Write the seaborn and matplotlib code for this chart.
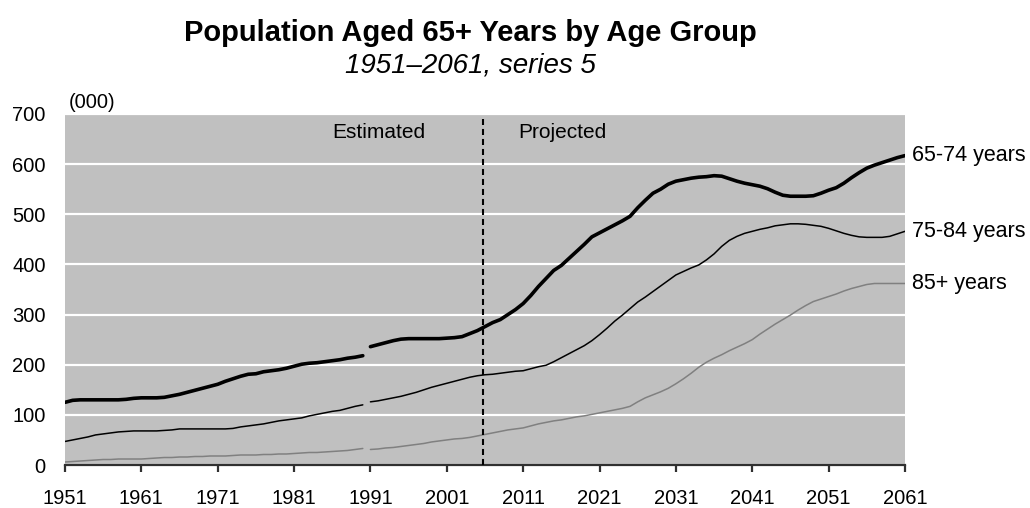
import matplotlib
matplotlib.use("Agg")
import matplotlib.pyplot as plt
import numpy as np
import pandas as pd
import seaborn as sns

# ---- data (thousands of persons) ----
years = list(range(1951, 2062))

age_65_74 = [
    125, 129, 130, 130, 130, 130, 130, 130, 131, 133,   # 1951-1960
    134, 134, 134, 135, 138, 141, 145, 149, 153, 157,   # 1961-1970
    161, 167, 172, 177, 181, 182, 186, 188, 190, 193,   # 1971-1980
    197, 201, 203, 204, 206, 208, 210, 213, 215, 218,   # 1981-1990
    236, 240, 244, 248, 251, 252, 252, 252, 252, 252,   # 1991-2000
    253, 254, 256, 262, 268, 276, 284, 290, 300, 310,   # 2001-2010
    322, 338, 356, 372, 388, 398, 412, 426, 440, 455,   # 2011-2020
    463, 471, 479, 487, 496, 513, 528, 542, 550, 560,   # 2021-2030
    566, 569, 572, 574, 575, 577, 576, 571, 566, 562,   # 2031-2040
    559, 556, 551, 544, 538, 536, 536, 536, 537, 542,   # 2041-2050
    548, 553, 562, 573, 583, 592, 598, 603, 608, 613,   # 2051-2060
    617,                                                # 2061
]

age_75_84 = [
    47, 50, 53, 56, 60, 62, 64, 66, 67, 68,
    68, 68, 68, 69, 70, 72, 72, 72, 72, 72,
    72, 72, 73, 76, 78, 80, 82, 85, 88, 90,
    92, 94, 98, 101, 104, 107, 109, 113, 117, 120,
    126, 128, 131, 134, 137, 141, 145, 150, 155, 159,
    163, 167, 171, 175, 178, 180, 181, 183, 185, 187,
    188, 192, 196, 199, 206, 214, 222, 230, 238, 248,
    260, 273, 287, 299, 312, 325, 335, 346, 357, 368,
    379, 386, 393, 399, 409, 421, 436, 448, 456, 462,
    466, 470, 473, 477, 479, 481, 481, 480, 478, 476,
    472, 467, 462, 458, 455, 454, 454, 454, 456, 461,
    466,
]

age_85_plus = [
    6, 7, 8, 9, 10, 11, 11, 12, 12, 12,
    12, 13, 14, 15, 15, 16, 16, 17, 17, 18,
    18, 18, 19, 20, 20, 20, 21, 21, 22, 22,
    23, 24, 25, 25, 26, 27, 28, 29, 31, 33,
    31, 32, 34, 35, 37, 39, 41, 43, 46, 48,
    50, 52, 53, 55, 58, 61, 64, 67, 70, 72,
    74, 78, 82, 85, 88, 90, 93, 96, 98, 101,
    104, 107, 110, 113, 117, 126, 134, 140, 146, 153,
    162, 172, 183, 195, 205, 213, 220, 228, 235, 242,
    250, 261, 271, 281, 290, 299, 309, 318, 326, 331,
    336, 341, 347, 352, 356, 360, 362, 362, 362, 362,
    362,
]

groups = ["65-74 years", "75-84 years", "85+ years"]
series = [age_65_74, age_75_84, age_85_plus]
x_ticks = list(range(1951, 2062, 10))
y_ticks = list(range(0, 701, 100))
last_estimate_year = 1990          # series break between 1990 and 1991
projection_start = 2005.7          # boundary between estimates and projections

# ---- long-form table ----
frames = []
for name, vals in zip(groups, series):
    frames.append(pd.DataFrame({
        "year": years,
        "value": vals,
        "group": name,
        "segment": ["early" if y <= last_estimate_year else "late" for y in years],
    }))
df = pd.concat(frames, ignore_index=True)

palette = {"65-74 years": "#000000", "75-84 years": "#000000", "85+ years": "#808080"}
widths = {"65-74 years": 2.6, "75-84 years": 1.1, "85+ years": 1.1}

sns.set_style("white")
plt.rcParams["font.family"] = ["Liberation Sans", "DejaVu Sans"]
plt.rcParams["text.color"] = "black"

fig = plt.figure(figsize=(10.30, 5.08), dpi=100)
ax = fig.add_axes([0.0631, 0.0846, 0.8155, 0.691])

ax.set_facecolor("#C0C0C0")
sns.lineplot(data=df, x="year", y="value", hue="group", size="group",
             units="segment", estimator=None, palette=palette, sizes=widths,
             legend=False, ax=ax, zorder=3)

ax.set_xlim(1951, 2061)
ax.set_ylim(0, 700)
ax.set_xticks(x_ticks)
ax.set_yticks(y_ticks)
ax.set_xlabel("")
ax.set_ylabel("")

ax.yaxis.grid(True, color="white", linewidth=1.6, zorder=1)
ax.xaxis.grid(False)
ax.set_axisbelow(True)

for side in ["top", "right", "left"]:
    ax.spines[side].set_visible(False)
ax.spines["bottom"].set_color("#303030")
ax.spines["bottom"].set_linewidth(1.6)

ax.tick_params(axis="x", bottom=True, length=5, width=1.6, color="#303030",
               pad=12, labelsize=14.5, labelcolor="black")
ax.tick_params(axis="y", left=False, length=0, pad=14, labelsize=14.5,
               labelcolor="black")

# estimates / projections boundary
ax.axvline(projection_start, ymin=0, ymax=0.985, color="black", linewidth=1.5,
           linestyle=(0, (2.9, 1.9)), zorder=4)
ax.text(1992.1, 664, "Estimated", ha="center", va="center", fontsize=15)
ax.text(2016.1, 664, "Projected", ha="center", va="center", fontsize=15)

# unit note
ax.text(0.004, 1.034, "(000)", transform=ax.transAxes, ha="left", va="center",
        fontsize=14.5)

# series labels at line ends
for name, vals in zip(groups, series):
    ax.annotate(name, xy=(years[-1], vals[-1]), xytext=(5, 0),
                textcoords="offset points", ha="left", va="center",
                fontsize=15.5, annotation_clip=False)

fig.text(470 / 1030, 1 - 33 / 508, "Population Aged 65+ Years by Age Group",
         ha="center", va="center", fontsize=21, fontweight="bold")
fig.text(470 / 1030, 1 - 65 / 508, "1951\u20132061, series 5",
         ha="center", va="center", fontsize=20, style="italic")

fig.savefig("out.png", dpi=100)
